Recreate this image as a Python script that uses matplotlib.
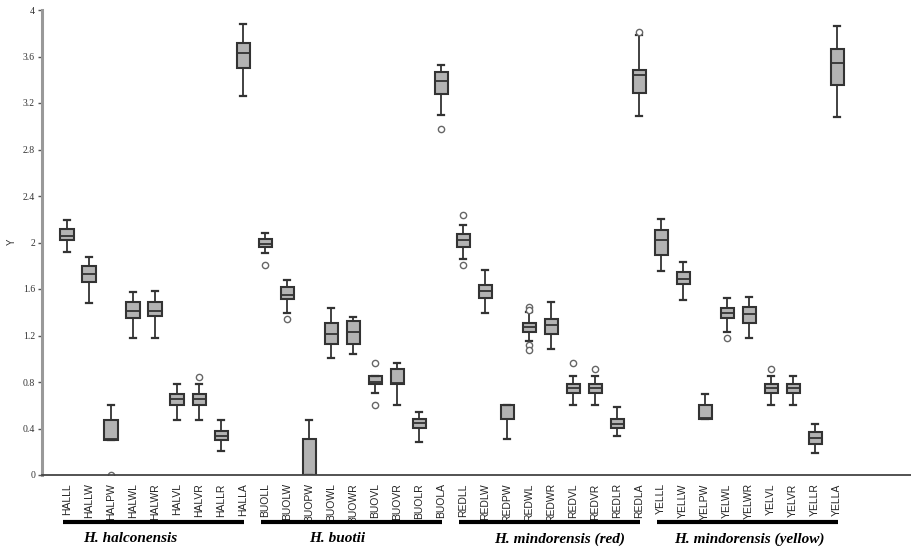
import matplotlib.pyplot as plt
from matplotlib.transforms import blended_transform_factory

# category codes, 9 per species
groups = ['H. halconensis', 'H. buotii', 'H. mindorensis (red)', 'H. mindorensis (yellow)']
prefixes = ['HAL', 'BUO', 'RED', 'YEL']
suffixes = ['LL', 'LW', 'PW', 'WL', 'WR', 'VL', 'VR', 'LR', 'LA']
labels = [p + s for p in prefixes for s in suffixes]

# box statistics: whislo, q1, med, q3, whishi
whislo = [1.92, 1.48, 0.30, 1.176, 1.176, 0.473, 0.473, 0.21, 3.26,
          1.91, 1.39, 0.0, 1.004, 1.041, 0.703, 0.60, 0.287, 3.097,
          1.858, 1.39, 0.307, 1.155, 1.081, 0.60, 0.60, 0.335, 3.088,
          1.755, 1.505, 0.479, 1.233, 1.176, 0.60, 0.60, 0.192, 3.082]
q1 = [2.02, 1.657, 0.30, 1.348, 1.368, 0.602, 0.602, 0.30, 3.50,
      1.96, 1.51, 0.0, 1.124, 1.124, 0.78, 0.78, 0.407, 3.28,
      1.964, 1.525, 0.479, 1.233, 1.21, 0.708, 0.708, 0.402, 3.283,
      1.89, 1.643, 0.479, 1.348, 1.31, 0.708, 0.708, 0.264, 3.355]
med = [2.056, 1.73, 0.31, 1.413, 1.413, 0.65, 0.65, 0.335, 3.63,
       1.99, 1.55, 0.0, 1.21, 1.233, 0.80, 0.79, 0.45, 3.39,
       2.02, 1.585, 0.48, 1.27, 1.29, 0.75, 0.75, 0.439, 3.44,
       2.02, 1.683, 0.49, 1.39, 1.385, 0.75, 0.75, 0.315, 3.54]
q3 = [2.12, 1.80, 0.473, 1.49, 1.49, 0.697, 0.697, 0.378, 3.72,
      2.03, 1.615, 0.307, 1.31, 1.327, 0.852, 0.912, 0.484, 3.464,
      2.07, 1.634, 0.60, 1.305, 1.342, 0.783, 0.783, 0.479, 3.484,
      2.108, 1.744, 0.602, 1.434, 1.448, 0.783, 0.783, 0.373, 3.662]
whishi = [2.196, 1.878, 0.60, 1.57, 1.583, 0.78, 0.78, 0.473, 3.88,
          2.08, 1.677, 0.473, 1.434, 1.362, 0.852, 0.96, 0.545, 3.53,
          2.15, 1.763, 0.60, 1.405, 1.49, 0.852, 0.852, 0.582, 3.785,
          2.202, 1.83, 0.697, 1.52, 1.534, 0.852, 0.852, 0.439, 3.862]
fliers = [[], [], [0.0], [], [], [], [0.846], [], [],
          [1.81], [1.34], [], [], [], [0.96, 0.60], [], [], [2.98],
          [2.237, 1.806], [], [], [1.443, 1.42, 1.118, 1.075], [], [0.96], [0.912], [], [3.813],
          [], [], [], [1.176], [], [0.909], [], [], []]

stats = []
for i, lab in enumerate(labels):
    stats.append(dict(label=lab, whislo=whislo[i], q1=q1[i], med=med[i],
                      q3=q3[i], whishi=whishi[i], fliers=fliers[i]))

fig = plt.figure(figsize=(9.12, 5.5), dpi=100)
ax = fig.add_axes([42 / 912, 75 / 550, 1 - 42 / 912, 465 / 550])

edge = '#333333'
ax.bxp(stats, positions=range(len(labels)), widths=0.6, patch_artist=True,
       boxprops=dict(facecolor='#b3b3b3', edgecolor=edge, linewidth=1.5),
       medianprops=dict(color=edge, linewidth=1.3),
       whiskerprops=dict(color=edge, linewidth=1.3),
       capprops=dict(color=edge, linewidth=1.6),
       capwidths=0.25,
       flierprops=dict(marker='o', markersize=4.5, markerfacecolor='white',
                       markeredgecolor='#666666', markeredgewidth=1))

ax.set_xlim(-1.14, 38.4)
ax.set_ylim(0, 4)
ax.set_yticks([0, 0.4, 0.8, 1.2, 1.6, 2.0, 2.4, 2.8, 3.2, 3.6, 4.0])
ax.set_yticklabels(['0', '0.4', '0.8', '1.2', '1.6', '2', '2.4', '2.8', '3.2', '3.6', '4'],
                   fontfamily='Liberation Serif', fontsize=7, color='#333333')
ax.set_xticks(range(len(labels)))
ax.set_xticklabels(labels, rotation=90, fontfamily='Liberation Sans', fontsize=7.5,
                   color='#222222')
ax.tick_params(axis='x', length=0, pad=6)
ax.tick_params(axis='y', length=3, width=1, color='#555555', pad=2)

ax.spines['top'].set_visible(False)
ax.spines['right'].set_visible(False)
ax.spines['left'].set_color('#999999')
ax.spines['left'].set_linewidth(2.2)
ax.spines['bottom'].set_color('#444444')
ax.spines['bottom'].set_linewidth(1.3)

fig.text(12 / 912, 0.56, 'Y', rotation=90, fontsize=7, fontfamily='Liberation Sans',
         ha='center', va='center', color='#333333')

# species bars and names below the tick labels
trans = blended_transform_factory(ax.transData, fig.transFigure)
label_x = [2.86, 12.27, 22.4, 31.0]
for g, name in enumerate(groups):
    start = g * 9
    ax.plot([start - 0.2, start + 8.05], [0.051, 0.051], color='black', linewidth=3,
            transform=trans, clip_on=False, solid_capstyle='butt')
    ax.text(label_x[g], 0.02, name, transform=trans, ha='center', va='center',
            fontfamily='Liberation Serif', fontstyle='italic', fontweight='bold',
            fontsize=11)

fig.savefig('out.png', dpi=100)
